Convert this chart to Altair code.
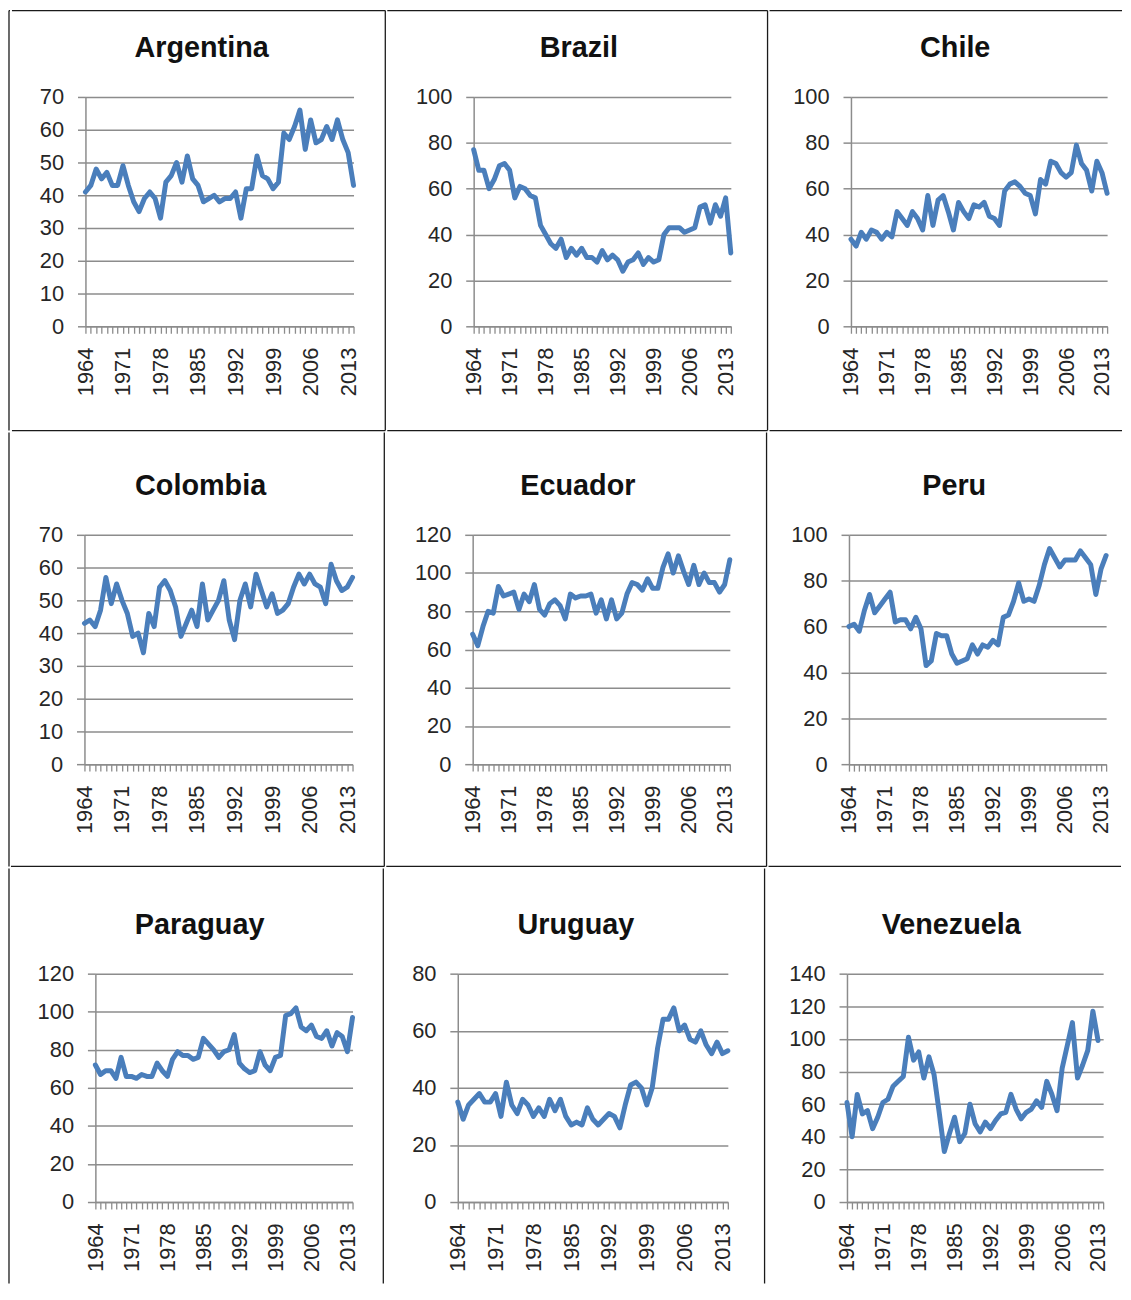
import altair as alt
import pandas as pd

# ---------------- data ----------------
years = list(range(1964, 2015))
countries = ["Argentina", "Brazil", "Chile",
             "Colombia", "Ecuador", "Peru",
             "Paraguay", "Uruguay", "Venezuela"]

argentina = [41, 43, 48, 45, 47, 43, 43, 49, 43, 38, 35, 39, 41, 39, 33, 44, 46, 50, 44, 52,
             45, 43, 38, 39, 40, 38, 39, 39, 41, 33, 42, 42, 52, 46, 45, 42, 44, 59, 57, 61,
             66, 54, 63, 56, 57, 61, 57, 63, 57, 53, 43]
brazil = [77, 68, 68, 60, 64, 70, 71, 68, 56, 61, 60, 57, 56, 44, 40, 36, 34, 38, 30, 34,
          31, 34, 30, 30, 28, 33, 29, 31, 29, 24, 28, 29, 32, 27, 30, 28, 29, 40, 43, 43,
          43, 41, 42, 43, 52, 53, 45, 53, 48, 56, 32]
chile = [38, 35, 41, 38, 42, 41, 38, 41, 39, 50, 47, 44, 50, 47, 42, 57, 44, 55, 57, 50,
         42, 54, 50, 47, 53, 52, 54, 48, 47, 44, 59, 62, 63, 61, 58, 57, 49, 64, 62, 72,
         71, 67, 65, 67, 79, 71, 68, 59, 72, 67, 58]
colombia = [43, 44, 42, 47, 57, 49, 55, 50, 46, 39, 40, 34, 46, 42, 54, 56, 53, 48, 39, 43,
            47, 42, 55, 44, 47, 50, 56, 44, 38, 50, 55, 48, 58, 53, 48, 52, 46, 47, 49, 54,
            58, 55, 58, 55, 54, 49, 61, 56, 53, 54, 57]
ecuador = [68, 62, 72, 80, 79, 93, 88, 89, 90, 81, 89, 85, 94, 81, 78, 84, 86, 83, 76, 89,
           87, 88, 88, 89, 79, 86, 76, 86, 76, 79, 89, 95, 94, 91, 97, 92, 92, 103, 110, 100,
           109, 101, 94, 104, 94, 100, 95, 95, 90, 94, 107]
peru = [60, 61, 58, 67, 74, 66, 69, 72, 75, 62, 63, 63, 59, 64, 59, 43, 45, 57, 56, 56,
        48, 44, 45, 46, 52, 48, 52, 51, 54, 52, 64, 65, 71, 79, 71, 72, 71, 78, 87, 94,
        90, 86, 89, 89, 89, 93, 90, 87, 74, 85, 91]
paraguay = [72, 67, 69, 69, 65, 76, 66, 66, 65, 67, 66, 66, 73, 69, 66, 75, 79, 77, 77, 75,
            76, 86, 83, 80, 76, 79, 80, 88, 73, 70, 68, 69, 79, 72, 69, 76, 77, 98, 99, 102,
            92, 90, 93, 87, 86, 90, 82, 89, 87, 79, 97]
uruguay = [35, 29, 34, 36, 38, 35, 35, 38, 30, 42, 34, 31, 36, 34, 30, 33, 30, 36, 32, 36,
           30, 27, 28, 27, 33, 29, 27, 29, 31, 30, 26, 34, 41, 42, 40, 34, 40, 54, 64, 64,
           68, 60, 62, 57, 56, 60, 55, 52, 56, 52, 53]
venezuela = [61, 40, 66, 54, 56, 45, 52, 61, 63, 71, 74, 77, 101, 87, 92, 76, 89, 78, 55, 31,
             42, 52, 37, 42, 60, 48, 43, 49, 45, 50, 54, 55, 66, 57, 51, 55, 57, 62, 58, 74,
             66, 56, 82, 96, 110, 76, 84, 93, 117, 99]

series = {"Argentina": argentina, "Brazil": brazil, "Chile": chile,
          "Colombia": colombia, "Ecuador": ecuador, "Peru": peru,
          "Paraguay": paraguay, "Uruguay": uruguay, "Venezuela": venezuela}
y_max = {"Argentina": 70, "Brazil": 100, "Chile": 100,
         "Colombia": 70, "Ecuador": 120, "Peru": 100,
         "Paraguay": 120, "Uruguay": 80, "Venezuela": 140}
y_step = {"Argentina": 10, "Brazil": 20, "Chile": 20,
          "Colombia": 10, "Ecuador": 20, "Peru": 20,
          "Paraguay": 20, "Uruguay": 20, "Venezuela": 20}

# ---------------- styling / layout ----------------
FONT = "Liberation Sans"
LINE_BLUE = "#4a7ebb"
GRID_GRAY = "#8c8c8c"
TEXT_DARK = "#262626"
BORDER = "#1a1a1a"
SW = 1.3

col_left = [8, 385, 768]
col_width = [377, 383, 355]
col_title_center = [200, 578, 955]
row_top = [10, 432, 867]
row_height = [423, 437, 418]
plot_top = [97, 535, 973]
plot_h = [231, 231, 230]
plot_left = [[83, 472, 850], [83, 472, 849], [95, 459, 850]]
plot_right = [[353, 731, 1108], [353, 731, 1108], [354, 731, 1108]]

one = pd.DataFrame({"k": [0]})


def rule(visible, **enc):
    return alt.Chart(one).mark_rule(
        color=BORDER, strokeWidth=SW, opacity=1 if visible else 0
    ).encode(**{k: alt.value(v) for k, v in enc.items()})


def spacer(r):
    # thin first element of each row: carries the outer left border
    T = plot_top[r] - row_top[r]
    return alt.layer(
        rule(True, x=0, y=-T, y2=row_height[r] - T),
        rule(r == 0, x=0, x2=1, y=-T),
    ).properties(width=1, height=plot_h[r])


def panel(r, c):
    name = countries[r * 3 + c]
    vals = series[name]
    df = pd.DataFrame({"year": years[:len(vals)], "value": vals})
    cell_left = col_left[c] + (1 if c == 0 else 0)
    L = plot_left[r][c] - cell_left
    T = plot_top[r] - row_top[r]
    w = plot_right[r][c] - plot_left[r][c]
    h = plot_h[r]
    cw = col_width[c] - (1 if c == 0 else 0)
    x0, x1 = -L, cw - L
    y0, y1 = -T, row_height[r] - T
    ymax, step = y_max[name], y_step[name]

    line = alt.Chart(df).mark_line(
        color=LINE_BLUE, strokeWidth=5, strokeJoin="round", strokeCap="round"
    ).encode(
        x=alt.X("year:Q",
                scale=alt.Scale(domain=[1964, 2014], nice=False, zero=False),
                axis=alt.Axis(values=years, format="d",
                              labelExpr="(datum.value - 1964) % 7 == 0 ? datum.label : ''",
                              labelAngle=270, labelOverlap=False, labelFlush=False,
                              grid=False, tickSize=7, tickColor=GRID_GRAY, tickWidth=1.3,
                              domainColor=GRID_GRAY, domainWidth=1.5, labelPadding=14,
                              labelFont=FONT, labelFontSize=22, labelColor=TEXT_DARK,
                              title=None)),
        y=alt.Y("value:Q",
                scale=alt.Scale(domain=[0, ymax], nice=False, zero=True),
                axis=alt.Axis(values=list(range(0, ymax + 1, step)), format="d",
                              grid=True, gridColor=GRID_GRAY, gridWidth=1.5,
                              tickSize=8, tickColor=GRID_GRAY, tickWidth=1.5,
                              domainColor=GRID_GRAY, domainWidth=1.5, labelPadding=14,
                              labelFont=FONT, labelFontSize=22, labelColor=TEXT_DARK,
                              title=None)),
    )

    title = alt.Chart(one).mark_text(
        text=name, font=FONT, fontSize=29, fontWeight="bold", color="#111111",
        align="center", baseline="alphabetic"
    ).encode(x=alt.value(col_title_center[c] - plot_left[r][c]), y=alt.value(-40))

    layers = [line, title,
              rule(r == 0, x=x0, x2=x1, y=y0),
              rule(False, x=x0, y=y0, y2=y1),
              rule(c < 2, x=x1, y=y0, y2=y1)]
    if r < 2:
        layers.append(rule(True, x=x0, x2=x1, y=y1))
    return alt.layer(*layers).properties(width=w, height=h)


rows = [alt.hconcat(spacer(r), *[panel(r, c) for c in range(3)], spacing=0) for r in range(3)]
chart = alt.vconcat(*rows, spacing=0).properties(
    padding={"left": 0, "top": -3, "right": 0, "bottom": 0},
    background="white",
).configure_view(strokeWidth=0)

chart.save("out.html", embed_options={"renderer": "svg", "actions": False})
